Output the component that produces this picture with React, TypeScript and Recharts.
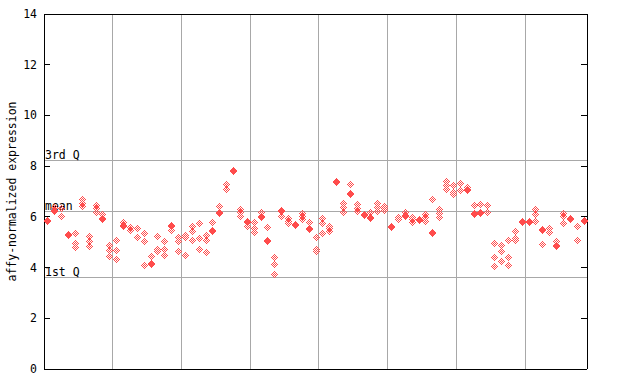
import React from 'react';
import { ScatterChart, Scatter, XAxis, YAxis, ReferenceLine } from 'recharts';

// one entry per sample column, replicate values (affy-normalized expression)
const expression: number[][] = [
  [5.88, 5.84], [6.4, 6.27, 6.23], [6.35, 6.05], [5.32, 5.28], [5.35, 4.95, 4.8],
  [6.69, 6.53, 6.42], [5.25, 5.05, 4.85], [6.45, 6.35, 6.2], [6.1, 5.97, 5.93], [4.9, 4.7, 4.45],
  [5.1, 4.7, 4.35], [5.8, 5.69, 5.65], [5.6, 5.5], [5.55, 5.2], [5.35, 5.05, 4.1],
  [4.45, 4.19, 4.15], [5.25, 4.75, 4.65], [5.05, 4.75, 4.5], [5.69, 5.65, 5.5], [5.2, 5.05, 4.65],
  [5.3, 5.2, 4.5], [5.65, 5.45, 5.1], [5.75, 5.15, 4.75], [5.3, 5.1, 4.6], [5.8, 5.49, 5.45],
  [6.43, 6.18, 6.14], [7.3, 7.1], [7.85, 7.81], [6.3, 6.2, 6.05], [5.85, 5.81, 5.63],
  [5.8, 5.55, 5.4], [6.21, 6.05, 6.01], [5.6, 5.1, 5.05], [4.4, 4.15, 3.75], [6.27, 6.23, 6.03],
  [5.95, 5.85, 5.75], [5.72, 5.68], [6.15, 6.05, 5.9], [5.81, 5.57, 5.53], [5.2, 4.75, 4.65],
  [5.95, 5.75, 5.35], [5.65, 5.55, 5.45], [7.43, 7.39], [6.55, 6.4, 6.2], [7.28, 6.95, 6.91],
  [6.5, 6.35, 6.25], [6.12, 6.08], [6.21, 5.99, 5.95], [6.55, 6.4, 6.25], [6.44, 6.33, 6.29],
  [5.65, 5.61], [6.0, 5.9], [6.21, 6.07, 6.03], [6.0, 5.9, 5.8], [5.9, 5.86],
  [6.1, 6.0, 5.85], [6.7, 5.4, 5.35], [6.3, 6.15, 6.0], [7.4, 7.25, 7.1], [7.25, 7.0, 6.9],
  [7.35, 7.05], [7.16, 7.1, 7.06], [6.47, 6.16, 6.12], [6.52, 6.2, 6.16], [6.45, 6.2],
  [4.95, 4.4, 4.05], [4.9, 4.65, 4.25], [5.1, 4.4, 4.1], [5.45, 5.15, 5.1], [5.84, 5.8],
  [5.82, 5.78], [6.3, 6.1, 5.85], [5.53, 5.49, 4.92], [5.55, 5.4], [5.06, 4.89, 4.85],
  [6.15, 6.05, 5.75], [5.95, 5.9], [5.65, 5.1], [5.88, 5.84],
];

const yTicks = [0, 2, 4, 6, 8, 10, 12, 14];
const groupLines = [10, 20, 30, 40, 50, 60, 70];
const quartiles = [
  { label: '3rd Q', value: 8.23 },
  { label: 'mean', value: 6.23 },
  { label: '1st Q', value: 3.62 },
];

const FONT = '"DejaVu Sans Mono", monospace';
const MARK = '#ff4c4c';
const nCols = expression.length;

const points = expression.flatMap((vals, i) => vals.map(v => ({ x: i + 0.5, y: v })));

// checkered diamond, like the bitmap marker
const Diamond = (props: any) => {
  const cx = Math.round(props.cx);
  const cy = Math.round(props.cy);
  const cells = [];
  for (let dy = -3; dy <= 3; dy++) {
    const w = 3 - Math.abs(dy);
    for (let dx = -w; dx <= w; dx++) {
      if (Math.abs(dx + dy) % 2 === 1 || Math.abs(dx) + Math.abs(dy) === 3) {
        cells.push(<rect key={dx + '_' + dy} x={cx + dx} y={cy + dy} width={1} height={1} fill={MARK} />);
      }
    }
  }
  return <g shapeRendering="crispEdges">{cells}</g>;
};

const YTick = (props: any) => {
  const { y, payload } = props;
  return (
    <g shapeRendering="crispEdges">
      <line x1={44} x2={50} y1={y} y2={y} stroke="#000" />
      <line x1={581} x2={587} y1={y} y2={y} stroke="#000" />
      <text x={37} y={y} dy={4} textAnchor="end" fontSize={11.5} fontFamily={FONT} fill="#000">
        {payload.value}
      </text>
    </g>
  );
};

const AxisTitle = (props: any) => {
  const vb = props.viewBox || {};
  const cy = (vb.y ?? 14) + (vb.height ?? 355) / 2;
  return (
    <text x={12} y={cy} transform={`rotate(-90 12 ${cy})`} textAnchor="middle" dominantBaseline="central"
      fontSize={11.5} fontFamily={FONT} fill="#000">
      affy-normalized expression
    </text>
  );
};

const QLabel = (props: any) => {
  const vb = props.viewBox || {};
  return (
    <text x={(vb.x ?? 44) + 1} y={(vb.y ?? 0) - 1} fontSize={11.5} fontFamily={FONT} fill="#000">
      {props.text}
    </text>
  );
};

export default function App() {
  return (
    <div style={{ position: 'absolute', left: 0, top: 0, background: '#fff' }}>
      <ScatterChart width={640} height={384} margin={{ top: 14, right: 53, bottom: 15, left: 0 }}>
        <XAxis type="number" dataKey="x" domain={[0, nCols]} hide />
        <YAxis
          type="number"
          dataKey="y"
          domain={[0, 14]}
          ticks={yTicks}
          width={44}
          tickSize={0}
          tickMargin={0}
          axisLine={false}
          tickLine={false}
          tick={<YTick />}
          label={<AxisTitle />}
        />
        {groupLines.map(x => (
          <ReferenceLine key={x} x={x} stroke="#a8a8a8" shapeRendering="crispEdges" />
        ))}
        {quartiles.map(q => (
          <ReferenceLine key={q.label} y={q.value} stroke="#a8a8a8" shapeRendering="crispEdges"
            label={<QLabel text={q.label} />} />
        ))}
        <ReferenceLine x={0} stroke="#000" shapeRendering="crispEdges" />
        <ReferenceLine x={nCols} stroke="#000" shapeRendering="crispEdges" />
        <ReferenceLine y={0} stroke="#000" shapeRendering="crispEdges" />
        <ReferenceLine y={14} stroke="#000" shapeRendering="crispEdges" />
        <Scatter data={points} fill={MARK} shape={<Diamond />} isAnimationActive={false} />
      </ScatterChart>
    </div>
  );
}
